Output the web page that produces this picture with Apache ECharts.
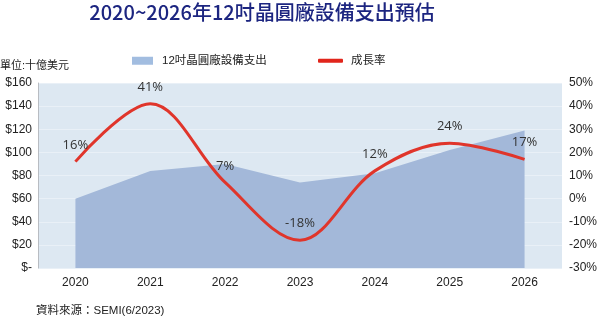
<!DOCTYPE html>
<html>
<head>
<meta charset="utf-8">
<script src="https://cdn.jsdelivr.net/npm/echarts@6/dist/echarts.min.js"></script>
<style>
  html, body { margin: 0; padding: 0; background: #fff; }
  #chart { width: 600px; height: 323px; }
</style>
</head>
<body>
<div id="chart"></div>
<script>
// 12-inch fab equipment spending (US$ billions) and yearly growth rate
const years = ['2020', '2021', '2022', '2023', '2024', '2025', '2026'];
const spending = [60, 84, 90, 74, 82, 102, 119];
const growth = [16, 41, 7, -18, 12, 24, 17];

const spendName = '12吋晶圓廠設備支出';
const growthName = '成長率';

const cjk = '"Liberation Sans", Arial, "Noto Sans CJK TC", sans-serif';
const chart = echarts.init(document.getElementById('chart'));

chart.setOption({
  animation: false,
  title: [
    {
      text: '2020~2026年12吋晶圓廠設備支出預估',
      left: 262, top: 2, textAlign: 'center', padding: 0,
      textStyle: { fontFamily: '"Noto Sans CJK TC", sans-serif', fontSize: 20, fontWeight: 500, color: '#1c2580' }
    },
    {
      text: '單位:十億美元',
      left: 0, top: 60, padding: 0,
      textStyle: { fontFamily: cjk, fontSize: 11, fontWeight: 'normal', color: '#222' }
    },
    {
      text: '資料來源：SEMI(6/2023)',
      left: 36, top: 305, padding: 0,
      textStyle: { fontFamily: cjk, fontSize: 11.5, fontWeight: 'normal', color: '#222' }
    }
  ],
  legend: [
    {
      data: [{ name: spendName, icon: 'rect' }],
      left: 132, top: 55, padding: 0,
      itemWidth: 21, itemHeight: 8, itemGap: 10,
      textStyle: { fontFamily: cjk, fontSize: 11.5, color: '#222', padding: [0, 0, 0, 4] }
    },
    {
      data: [{ name: growthName, icon: 'roundRect' }],
      left: 318, top: 55, padding: 0,
      itemWidth: 25, itemHeight: 4,
      textStyle: { fontFamily: cjk, fontSize: 11.5, color: '#222', padding: [0, 0, 0, 3] }
    }
  ],
  grid: {
    left: 38, right: 38, top: 83, bottom: 55,
    show: true, backgroundColor: '#dde8f2', borderWidth: 0
  },
  xAxis: {
    type: 'category',
    data: years,
    boundaryGap: true,
    axisLine: { show: false },
    axisTick: { show: false },
    axisLabel: { margin: 9, fontFamily: cjk, fontSize: 12, color: '#222' }
  },
  yAxis: [
    {
      type: 'value', min: 0, max: 160, interval: 20,
      axisLine: { show: true, lineStyle: { color: '#b8bcc2', width: 1 } },
      axisTick: { show: false },
      splitLine: { show: true, lineStyle: { color: '#e9f0f7', width: 1 } },
      axisLabel: {
        margin: 6, fontFamily: cjk, fontSize: 12, color: '#222',
        formatter: v => v === 0 ? '$-' : '$' + v
      }
    },
    {
      type: 'value', min: -30, max: 50, interval: 10,
      axisLine: { show: false },
      axisTick: { show: false },
      splitLine: { show: false },
      axisLabel: {
        margin: 7, fontFamily: cjk, fontSize: 12, color: '#222',
        formatter: v => v + '%'
      }
    }
  ],
  series: [
    {
      name: spendName,
      type: 'line',
      data: spending,
      yAxisIndex: 0,
      symbol: 'none',
      itemStyle: { color: '#a2bde0' },
      lineStyle: { width: 0 },
      areaStyle: { color: '#a3b8d9', opacity: 1 },
      z: 2
    },
    {
      name: growthName,
      type: 'line',
      data: growth,
      yAxisIndex: 1,
      smooth: 0.35,
      symbol: 'circle',
      symbolSize: 0.1,
      showSymbol: true,
      itemStyle: { color: '#e1251b' },
      lineStyle: { color: '#e0352b', width: 3 },
      label: {
        show: true, position: 'top', distance: 10,
        fontFamily: '"Open Sans", "Noto Sans", sans-serif', fontSize: 13, color: '#333',
        formatter: p => p.value + '%'
      },
      z: 3
    }
  ]
});
</script>
</body>
</html>
